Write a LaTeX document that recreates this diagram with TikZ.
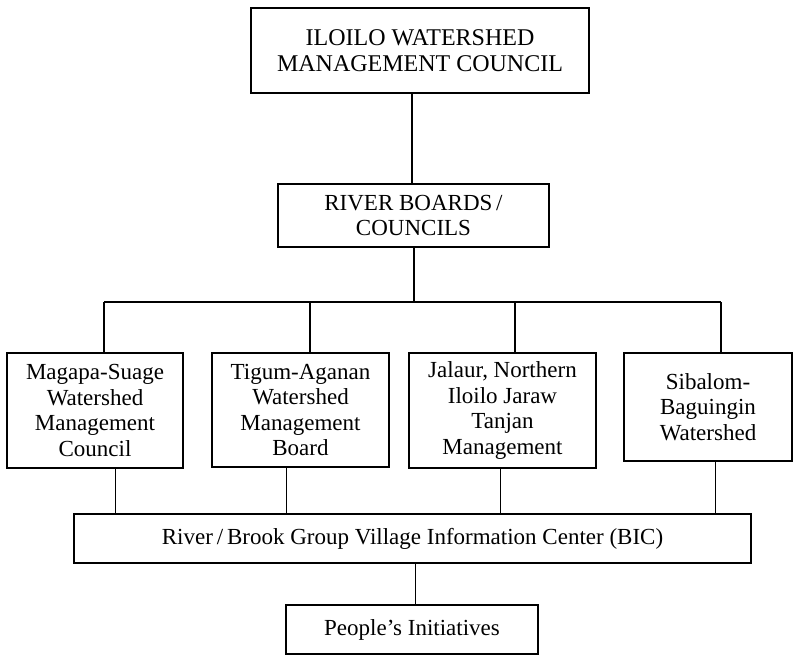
\documentclass[tikz,border=0pt]{standalone}
\usepackage{fontspec}
\setmainfont{Liberation Serif}
\begin{document}
\begin{tikzpicture}[x=1pt,y=-1pt,
  box/.style={draw, line width=2pt, inner sep=0pt, align=center,
    font=\fontsize{23}{25.5}\selectfont},
  thickline/.style={line width=2pt},
  thinline/.style={line width=1pt}]
\useasboundingbox (0,0) rectangle (794,655);
\node[box, minimum width=338pt, minimum height=85pt, font=\fontsize{24}{25.5}\selectfont] (top) at (420,50.5)
  {ILOILO WATERSHED\\MANAGEMENT COUNCIL};
\node[box, minimum width=271pt, minimum height=63pt] (rb) at (413.5,215.5)
  {RIVER BOARDS\,/\\COUNCILS};
\node[box, minimum width=176pt, minimum height=115pt] (b1) at (95,410.5)
  {Magapa-Suage\\Watershed\\Management\\Council};
\node[box, minimum width=177pt, minimum height=114pt] (b2) at (300.5,410)
  {Tigum-Aganan\\Watershed\\Management\\Board};
\node[box, minimum width=187pt, minimum height=115pt] (b3) at (502.5,410.5)
  {Jalaur, Northern\\Iloilo Jaraw\\Tanjan\\Management};
\node[box, minimum width=168pt, minimum height=108pt] (b4) at (708,407)
  {Sibalom-\\Baguingin\\Watershed};
\node[box, minimum width=677pt, minimum height=49pt] (bic) at (412.5,538.5)
  {River\,/\,Brook Group Village Information Center (BIC)};
\node[box, minimum width=252pt, minimum height=49pt] (pi) at (412,629.5)
  {People's Initiatives};
% coordinates for connector columns
\coordinate (c0) at (412,0);
\coordinate (cm) at (414,302);
\coordinate (d1) at (104,302);
\coordinate (d2) at (310,302);
\coordinate (d3) at (515,302);
\coordinate (d4) at (721,302);
\coordinate (e1) at (115,0);
\coordinate (e2) at (286,0);
\coordinate (e3) at (500,0);
\coordinate (e4) at (715,0);
\coordinate (e5) at (415,0);
% upper connectors
\draw[thickline] (top.south -| c0) -- (rb.north -| c0);
\draw[thickline] (rb.south -| cm) -- (cm);
\draw[thickline] (d1) -- (d4);
\draw[thickline] (d1) -- (b1.north -| d1);
\draw[thickline] (d2) -- (b2.north -| d2);
\draw[thickline] (d3) -- (b3.north -| d3);
\draw[thickline] (d4) -- (b4.north -| d4);
% lower connectors
\draw[thinline] (b1.south -| e1) -- (bic.north -| e1);
\draw[thinline] (b2.south -| e2) -- (bic.north -| e2);
\draw[thinline] (b3.south -| e3) -- (bic.north -| e3);
\draw[thinline] (b4.south -| e4) -- (bic.north -| e4);
\draw[thinline] (bic.south -| e5) -- (pi.north -| e5);
\end{tikzpicture}
\end{document}
